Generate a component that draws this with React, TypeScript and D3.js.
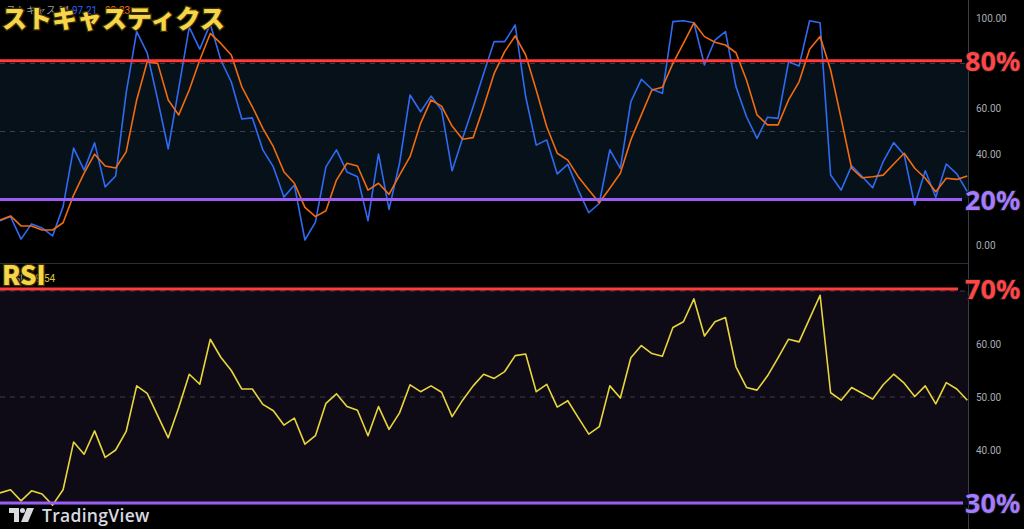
import React from "react";
import * as d3 from "d3";

const W = 1024;
const H = 529;

// Stochastic %K (blue) and %D (orange), one value per bar
const stochK = [10.7, 12.5, 2.6, 9.3, 7.5, 4, 16.9, 42.7, 33, 45, 25.6, 30.4, 67, 94, 84.6, 63.9, 42.3, 69, 96, 86.3,
  97.4, 81.5, 71.8, 55.5, 56, 41.9, 34.4, 21.1, 26.4, 2.2, 10.1, 34.4, 41.9, 32.2, 30.1, 10.7, 40.1, 15.7, 36, 66.1,
  58.7, 65.6, 59.5, 32.7, 47, 60.9, 75.6, 89.6, 89.6, 96.9, 65.3, 44, 46.3, 31.3, 35.5, 24.2, 14.2, 18.4, 41.9, 33.8,
  63.1, 73, 68.6, 66.8, 98.4, 98.8, 97.9, 79.3, 90.3, 94, 69.7, 56.5, 47, 56.3, 55.8, 80.7, 78.9, 98.8, 97.9, 30.8,
  24.2, 34.9, 30.1, 25.2, 36.7, 45.1, 39.6, 17.6, 32.7, 21, 35.7, 31.3, 23.5];
const stochD = [11, 12.8, 8.4, 8.4, 6.6, 6.6, 9.8, 22, 31.7, 40, 34.8, 33.9, 41, 63.9, 80.7, 80, 63.9, 57.3, 68.3, 81.5,
  93.2, 88.8, 83.7, 69.7, 60.9, 51.4, 43.3, 32.3, 27.2, 16.6, 12.5, 15.1, 28.6, 36, 34.8, 24.2, 27.2, 22.3, 30.8, 38.9,
  53.6, 63.9, 61.2, 52.4, 46.6, 47.3, 60.9, 75.6, 85.2, 92.1, 83.7, 68.3, 52.1, 40.4, 37.4, 30.1, 24.2, 18.6, 25, 31.6,
  46.3, 57.3, 68.3, 69.5, 80, 88.8, 97.9, 91.8, 89.3, 88.1, 84.7, 72.7, 57.3, 52.9, 52.9, 63.9, 71.9, 86.2, 91.8, 77.1,
  55.8, 33.8, 29.6, 30.1, 30.8, 35.7, 40.4, 33.8, 29.4, 23.5, 29.4, 28.9, 30.4];
const rsi = [31.9, 32.5, 30.4, 32.3, 31.7, 29.6, 32.5, 41.5, 39.2, 43.6, 38.6, 40, 43.5, 52.1, 50.7, 46.5, 42.3, 48, 54.3, 52.4,
  60.9, 57.5, 55, 51.5, 51.5, 48.6, 47.4, 44.7, 46, 41.1, 42.7, 48.8, 50.6, 48.2, 47.5, 42.7, 48.2, 43.9, 47, 52.3,
  51, 52.1, 50.9, 46.3, 49.4, 52.1, 54.3, 53.5, 54.8, 57.8, 58.1, 51, 52.4, 48.1, 49.3, 46.1, 43, 44.4, 52.1, 49.8,
  57.4, 59.7, 58.2, 57.7, 63.1, 64.2, 68.5, 61.5, 64.2, 65, 55.7, 51.8, 51.3, 54, 57.4, 60.9, 60.4, 64.8, 69.2, 50.8,
  49.4, 51.8, 50.7, 49.6, 52.3, 54.3, 52.6, 50.1, 52.1, 48.7, 52.7, 51.5, 49.4];

const stochTicks = [100, 60, 40, 0];
const stochDashed = [80, 50];
const stochBand = [80, 20];
const stochLevels = [{ v: 81.2, label: "80%", color: "#ff3b3b", text: "#ff4545" }, { v: 20, label: "20%", color: "#9b5cf6", text: "#a57bff" }];
const rsiTicks = [60, 50, 40];
const rsiDashed = [70, 50];
const rsiBand = [70, 30];
const rsiLevels = [{ v: 70.4, label: "70%", color: "#ff3b3b", text: "#ff4545" }, { v: 30, label: "30%", color: "#9b5cf6", text: "#a57bff" }];

export default function App() {
  const plotRight = 968.5;
  const x = d3.scaleLinear().domain([0, stochK.length - 1]).range([0, 967.3]);
  const yS = d3.scaleLinear().domain([0, 100]).range([245, 18]);
  const yR = d3.scaleLinear().domain([40, 60]).range([450, 344]);

  const lineS = d3.line<number>().x((_, i) => x(i)).y((d) => yS(d));
  const lineR = d3.line<number>().x((_, i) => x(i)).y((d) => yR(d));

  const tickStyle = { fontFamily: "Roboto, 'Noto Sans', sans-serif", fontSize: 10, fill: "#a9acb4" };
  const bigLabel = (color: string) => ({
    fontFamily: "'Noto Sans', 'DejaVu Sans', sans-serif",
    fontSize: 27,
    fontWeight: 700 as const,
    fill: color,
    stroke: "#1a1a1a",
    strokeWidth: 2,
    paintOrder: "stroke" as const,
  });
  const titleStyle = {
    fontFamily: "'Noto Sans CJK JP', sans-serif",
    fontSize: 25,
    fontWeight: 900 as const,
    fill: "#f7d54a",
    stroke: "#3a3000",
    strokeWidth: 2.5,
    paintOrder: "stroke" as const,
  };

  return (
    <svg width={W} height={H} style={{ position: "absolute", left: 0, top: 0, background: "#000" }}>
      <rect x={0} y={0} width={W} height={H} fill="#000" />
      {/* Stochastic panel */}
      <rect x={0} y={yS(stochBand[0])} width={plotRight} height={yS(stochBand[1]) - yS(stochBand[0])} fill="#07111a" />
      {stochDashed.map((v) => (
        <line key={"sd" + v} x1={0} x2={plotRight} y1={yS(v)} y2={yS(v)} stroke="#3d4049" strokeDasharray="5 5" strokeWidth={1} />
      ))}
      <text x={6} y={14} style={{ fontFamily: "'Noto Sans CJK JP', sans-serif", fontSize: 10, fill: "#9a9da5" }}>ストキャス 14</text>
      <text x={72} y={14} style={{ fontFamily: "Roboto, sans-serif", fontSize: 10, fill: "#2962ff" }}>97.21</text>
      <text x={105} y={14} style={{ fontFamily: "Roboto, sans-serif", fontSize: 10, fill: "#ff6d00" }}>93.23</text>
      <path d={lineS(stochK) || ""} fill="none" stroke="#2f6bf2" strokeWidth={1.6} strokeLinejoin="round" />
      <path d={lineS(stochD) || ""} fill="none" stroke="#f26b0f" strokeWidth={1.6} strokeLinejoin="round" />
      {stochLevels.map((l) => (
        <line key={"sl" + l.label} x1={0} x2={962} y1={yS(l.v)} y2={yS(l.v)} stroke={l.color} strokeWidth={3} />
      ))}
      <text x={2} y={28} style={titleStyle}>ストキャスティクス</text>

      {/* panel separator */}
      <line x1={0} x2={plotRight} y1={263.5} y2={263.5} stroke="#2a2e39" strokeWidth={1} />

      {/* RSI panel */}
      <rect x={0} y={yR(rsiBand[0])} width={plotRight} height={H - yR(rsiBand[0])} fill="#0e0b16" />
      <rect x={0} y={yR(rsiBand[1]) + 2} width={plotRight} height={H - yR(rsiBand[1])} fill="#000" />
      {rsiDashed.map((v) => (
        <line key={"rd" + v} x1={0} x2={plotRight} y1={yR(v)} y2={yR(v)} stroke="#3d4049" strokeDasharray="5 5" strokeWidth={1} />
      ))}
      <text x={8} y={282} style={{ fontFamily: "Roboto, sans-serif", fontSize: 10, fill: "#9a9da5" }}>RSI</text>
      <text x={30} y={282} style={{ fontFamily: "Roboto, sans-serif", fontSize: 10, fill: "#d9c83a" }}>49.54</text>
      <path d={lineR(rsi) || ""} fill="none" stroke="#e8d63c" strokeWidth={1.6} strokeLinejoin="round" />
      {rsiLevels.map((l, i) => (
        <line key={"rl" + l.label} x1={0} x2={i === 0 ? 958 : 963} y1={yR(l.v)} y2={yR(l.v)} stroke={l.color} strokeWidth={3} />
      ))}
      <text x={2} y={285} style={{ ...titleStyle, fontSize: 26 }}>RSI</text>

      {/* right axis */}
      <line x1={plotRight} x2={plotRight} y1={0} y2={H} stroke="#3a3d46" strokeWidth={1} />
      {stochTicks.map((v) => (
        <text key={"st" + v} x={976} y={yS(v) + 3.5} style={tickStyle}>{v.toFixed(2)}</text>
      ))}
      {rsiTicks.map((v) => (
        <text key={"rt" + v} x={976} y={yR(v) + 3.5} style={tickStyle}>{v.toFixed(2)}</text>
      ))}
      {stochLevels.map((l) => (
        <text key={"sL" + l.label} x={965} y={yS(l.v) + 10} style={bigLabel(l.text)}>{l.label}</text>
      ))}
      {rsiLevels.map((l) => (
        <text key={"rL" + l.label} x={965} y={yR(l.v) + 10} style={bigLabel(l.text)}>{l.label}</text>
      ))}

      {/* TradingView logo */}
      <g transform="translate(9,508)" fill="#d8dae0">
        <path d="M0 0 H10 V14 H5 V5 H0 Z" />
        <circle cx={13.5} cy={2.5} r={2.5} />
        <path d="M18 0 H25 L19 14 H12 Z" />
      </g>
      <text x={42} y={522} style={{ fontFamily: "'Open Sans', 'Noto Sans', sans-serif", fontSize: 17.5, fontWeight: 600, fill: "#d8dae0", letterSpacing: 0.3 }}>TradingView</text>
    </svg>
  );
}
